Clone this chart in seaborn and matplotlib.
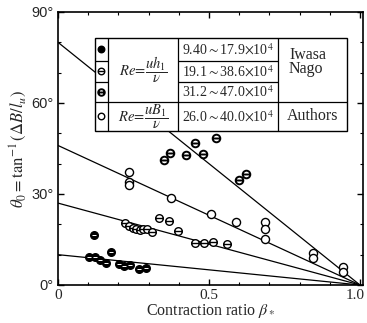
import matplotlib
matplotlib.use('Agg')
import numpy as np
import pandas as pd
import seaborn as sns
import matplotlib.pyplot as plt
import matplotlib.transforms as mtransforms
from matplotlib.path import Path
from matplotlib.patches import Rectangle
from matplotlib.ticker import MultipleLocator, FixedLocator

# ---------------- data ----------------
# Iwasa & Nago, Re = 9.40~17.9e4 (filled)
s1_x = [0.104, 0.120, 0.123, 0.139, 0.158, 0.175, 0.202, 0.220, 0.238, 0.269, 0.291]
s1_y = [9.1, 16.5, 9.3, 8.2, 7.4, 11.0, 6.9, 6.3, 6.6, 5.3, 5.5]
# Iwasa & Nago, Re = 19.1~38.6e4
s2_x = [0.222, 0.236, 0.247, 0.258, 0.272, 0.283, 0.294, 0.310, 0.336, 0.368, 0.396,
        0.454, 0.485, 0.512, 0.561]
s2_y = [20.3, 19.4, 18.9, 18.4, 18.1, 18.4, 18.4, 17.6, 22.0, 21.1, 17.9,
        13.7, 13.7, 14.3, 13.5]
# Iwasa & Nago, Re = 31.2~47.0e4
s3_x = [0.351, 0.371, 0.423, 0.453, 0.481, 0.522, 0.598, 0.623]
s3_y = [41.2, 43.6, 42.9, 46.7, 43.2, 48.4, 34.6, 36.6]
# Authors, Re = 26.0~40.0e4 (open)
s4_x = [0.236, 0.236, 0.236, 0.374, 0.507, 0.588, 0.687, 0.687, 0.687, 0.843, 0.843, 0.943, 0.943]
s4_y = [37.4, 34.1, 33.0, 28.6, 23.3, 20.7, 20.7, 18.4, 15.1, 10.7, 8.8, 6.0, 4.4]

# straight lines: from (0, intercept) to (1, 0)
line_x = [0.0, 1.0]
line_intercepts = [80, 46, 27, 10]

legend_ranges = [r'9.40$\sim$17.9$\times$10$^4$', r'19.1$\sim$38.6$\times$10$^4$',
                 r'31.2$\sim$47.0$\times$10$^4$', r'26.0$\sim$40.0$\times$10$^4$']

xticks = [0, 0.5, 1.0]
xticklabels = ['0', '0.5', '1.0']
yticks = [0, 30, 60, 90]
yticklabels = ['0°', '30°', '60°', '90°']

# ---------------- style ----------------
sns.set_theme(style='ticks')
plt.rcParams['font.family'] = ['Liberation Serif', 'DejaVu Serif']
plt.rcParams['mathtext.fontset'] = 'stix'

theta = Path.make_compound_path(Path.unit_circle(),
                                Path([[-1, 0], [1, 0]], [Path.MOVETO, Path.LINETO]))

fig = plt.figure(figsize=(3.67, 3.23), dpi=100)
ax = fig.add_axes([58/367, 1-285/323, (363-58)/367, (285-12)/323])

for b in line_intercepts:
    sns.lineplot(x=line_x, y=[b, 0], color='black', lw=0.9, ax=ax, zorder=2)

sns.scatterplot(x=s1_x, y=s1_y, marker='o', s=30, color='black', edgecolor='black',
                linewidth=1.0, ax=ax, zorder=4)
sns.scatterplot(x=s1_x, y=s1_y, marker='_', s=8, color='white', linewidth=0.7, ax=ax, zorder=5)
sns.scatterplot(x=s2_x, y=s2_y, marker=theta, s=30, color='white', edgecolor='black',
                linewidth=1.0, ax=ax, zorder=4)
sns.scatterplot(x=s3_x, y=s3_y, marker=theta, s=30, color='white', edgecolor='black',
                linewidth=1.4, ax=ax, zorder=4)
sns.scatterplot(x=s4_x, y=s4_y, marker='o', s=34, color='white', edgecolor='black',
                linewidth=1.0, ax=ax, zorder=4)

ax.set_xlim(0, 1.01)
ax.set_ylim(0, 90)
ax.xaxis.set_major_locator(FixedLocator(xticks))
ax.set_xticklabels(xticklabels, fontsize=11, family='Liberation Serif')
ax.yaxis.set_major_locator(FixedLocator(yticks))
ax.set_yticklabels(yticklabels, fontsize=10.5, family='Liberation Sans')
ax.xaxis.set_minor_locator(MultipleLocator(0.1))
ax.yaxis.set_minor_locator(MultipleLocator(10))
ax.tick_params(which='both', direction='in', top=True, right=True, color='black')
ax.tick_params(which='major', length=4, width=1, pad=3)
ax.tick_params(which='minor', length=2.5, width=0.8)
for sp in ax.spines.values():
    sp.set_linewidth(1.2)
    sp.set_color('black')
# nudge the last x tick label so it stays inside the figure
last = ax.get_xticklabels()[-1]
last.set_transform(last.get_transform() +
                   mtransforms.ScaledTranslation(-5/100, 0, fig.dpi_scale_trans))

ax.set_xlabel(r'Contraction ratio $\beta_*$', fontsize=11.5, labelpad=0)
ax.set_ylabel(r'$\theta_0=\tan^{-1}(\mathit{\Delta B}/l_u)$', fontsize=12, labelpad=2)

# ---------------- legend table ----------------
def xp(px):
    return (px - 58) / 302.0

def yp(py):
    return (285 - py) / 3.033

L, R, T, B = 95, 347, 38, 131
c1, c2, c3 = 108, 178, 278
r1, r2, r3 = 61, 82, 102
kw = dict(color='black', lw=0.9, zorder=6, solid_capstyle='butt')
ax.add_patch(Rectangle((xp(L), yp(B)), xp(R)-xp(L), yp(T)-yp(B), facecolor='white',
                       edgecolor='black', lw=1.0, zorder=5))
for c in (c1, c2, c3):
    ax.plot([xp(c), xp(c)], [yp(T), yp(B)], **kw)
ax.plot([xp(L), xp(R)], [yp(r3), yp(r3)], **kw)
for r in (r1, r2):
    ax.plot([xp(L), xp(c1)], [yp(r), yp(r)], **kw)
    ax.plot([xp(c2), xp(c3)], [yp(r), yp(r)], **kw)

mx = xp((L + c1) / 2)
row_y = [yp((T + r1) / 2), yp((r1 + r2) / 2), yp((r2 + r3) / 2), yp((r3 + B) / 2)]
ax.scatter([mx], [row_y[0]], marker='o', s=22, color='black', zorder=7)
ax.scatter([mx], [row_y[1]], marker=theta, s=22, facecolor='white', edgecolor='black', lw=1.0, zorder=7)
ax.scatter([mx], [row_y[2]], marker=theta, s=22, facecolor='white', edgecolor='black', lw=1.4, zorder=7)
ax.scatter([mx], [row_y[3]], marker='o', s=22, facecolor='white', edgecolor='black', lw=1.0, zorder=7)

ax.text(xp((c1 + c2) / 2), yp((T + r3) / 2), r'$Re\!=\!\dfrac{uh_1}{\nu}$', ha='center',
        va='center', fontsize=10.5, zorder=7)
ax.text(xp((c1 + c2) / 2), row_y[3], r'$Re\!=\!\dfrac{uB_1}{\nu}$', ha='center',
        va='center', fontsize=10.5, zorder=7)
for i, t in enumerate(legend_ranges):
    ax.text(xp((c2 + c3) / 2), row_y[i], t, ha='center', va='center', fontsize=10, zorder=7)
ax.text(xp(289), yp(62), 'Iwasa\nNago', ha='left', va='center', fontsize=11.5,
        linespacing=0.9, zorder=7)
ax.text(xp((c3 + R) / 2), row_y[3], 'Authors', ha='center', va='center', fontsize=11.5, zorder=7)

fig.savefig('out.png', dpi=100)
